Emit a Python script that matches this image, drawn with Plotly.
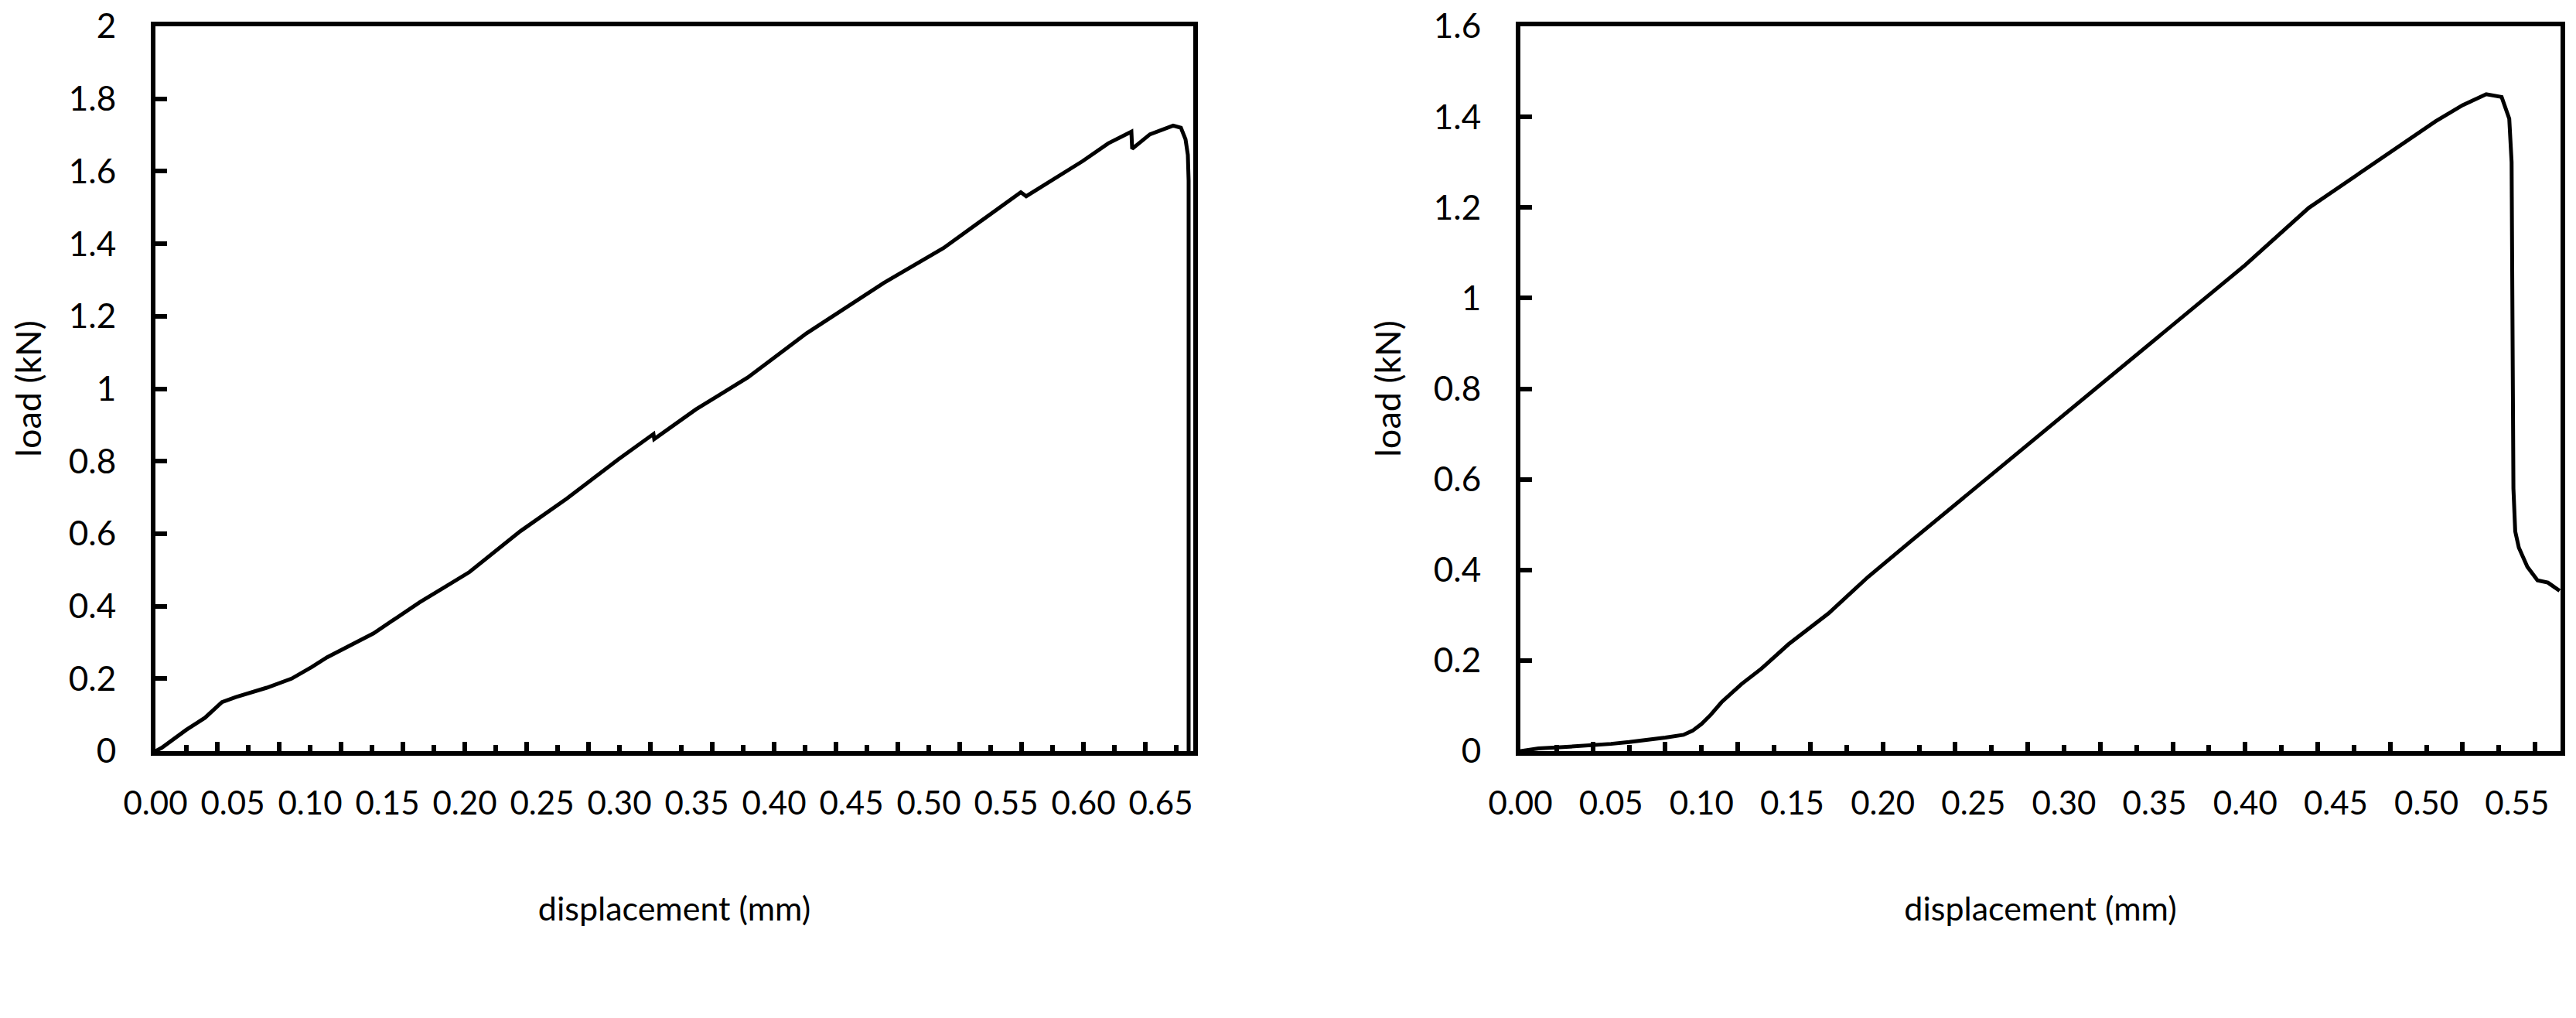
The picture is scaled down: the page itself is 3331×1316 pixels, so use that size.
import plotly.graph_objects as go

# ---- data ----
# (a) load-displacement curve
disp_a = [0.000, 0.004, 0.020, 0.032, 0.043, 0.052, 0.072, 0.088, 0.101, 0.111,
          0.141, 0.171, 0.203, 0.236, 0.266, 0.2995, 0.322, 0.3225, 0.3495, 0.383,
          0.421, 0.471, 0.5095, 0.5595, 0.563, 0.5995, 0.616, 0.631, 0.6315, 0.643,
          0.658, 0.663, 0.666, 0.6675, 0.668, 0.668]
load_a = [0.000, 0.009, 0.059, 0.092, 0.135, 0.149, 0.175, 0.200, 0.232, 0.259,
          0.325, 0.411, 0.494, 0.607, 0.697, 0.806, 0.875, 0.861, 0.943, 1.031,
          1.153, 1.292, 1.388, 1.542, 1.531, 1.628, 1.677, 1.709, 1.662, 1.702,
          1.726, 1.720, 1.688, 1.645, 1.574, 0.000]

# (b) load-displacement curve
disp_b = [0.000, 0.005, 0.010, 0.020, 0.030, 0.040, 0.050, 0.060, 0.070, 0.080,
          0.090, 0.095, 0.100, 0.105, 0.111, 0.122, 0.133, 0.148, 0.170, 0.192,
          0.216, 0.250, 0.300, 0.350, 0.400, 0.435, 0.461, 0.485, 0.505, 0.520,
          0.533, 0.5415, 0.5457, 0.547, 0.5475, 0.548, 0.549, 0.551, 0.5557, 0.5613,
          0.567, 0.5735]
load_b = [0.000, 0.004, 0.006, 0.008, 0.010, 0.013, 0.016, 0.020, 0.024, 0.030,
          0.036, 0.045, 0.060, 0.080, 0.108, 0.148, 0.182, 0.236, 0.304, 0.385,
          0.465, 0.577, 0.742, 0.907, 1.073, 1.199, 1.270, 1.336, 1.390, 1.426,
          1.450, 1.444, 1.396, 1.300, 0.940, 0.580, 0.485, 0.449, 0.407, 0.377,
          0.372, 0.354]

# tick labels
x_ticks_a = [0.00, 0.05, 0.10, 0.15, 0.20, 0.25, 0.30, 0.35, 0.40, 0.45, 0.50, 0.55, 0.60, 0.65]
x_ticks_b = [0.00, 0.05, 0.10, 0.15, 0.20, 0.25, 0.30, 0.35, 0.40, 0.45, 0.50, 0.55]
x_ticktext_a = ["0.00", "0.05", "0.10", "0.15", "0.20", "0.25", "0.30", "0.35", "0.40",
                "0.45", "0.50", "0.55", "0.60", "0.65"]
x_ticktext_b = ["0.00", "0.05", "0.10", "0.15", "0.20", "0.25", "0.30", "0.35", "0.40",
                "0.45", "0.50", "0.55"]
y_ticks_a = [0, 0.2, 0.4, 0.6, 0.8, 1.0, 1.2, 1.4, 1.6, 1.8, 2.0]
y_ticks_b = [0, 0.2, 0.4, 0.6, 0.8, 1.0, 1.2, 1.4, 1.6]
y_ticktext_a = ["0", "0.2", "0.4", "0.6", "0.8", "1", "1.2", "1.4", "1.6", "1.8", "2"]
y_ticktext_b = ["0", "0.2", "0.4", "0.6", "0.8", "1", "1.2", "1.4", "1.6"]
# tick marks on the displacement axes (they are not at the label positions)
x_marks_long = [0.00, 0.04, 0.08, 0.12, 0.16, 0.20, 0.24, 0.28, 0.32, 0.36, 0.40,
                0.44, 0.48, 0.52, 0.56, 0.60, 0.64]
x_marks_short = [0.02, 0.06, 0.10, 0.14, 0.18, 0.22, 0.26, 0.30, 0.34, 0.38, 0.42,
                 0.46, 0.50, 0.54, 0.58, 0.62, 0.66]

x_range_a = [0, 0.671]
x_range_b = [0, 0.574]
y_range_a = [0, 2]
y_range_b = [0, 1.6]

panel_labels = ["a", "b"]
x_title = "displacement (mm)"
y_title = "load (kN)"

# ---- styling / layout (page pixel positions; the page body has an 8px margin) ----
FONT = "Lato, 'Open Sans', sans-serif"
SERIF = "'Liberation Serif', 'DejaVu Serif', serif"
LW = 6
OFF = 8
W, H = 3331, 1316


def px(x):
    return (x - OFF) / W


def py(y):
    return 1 - (y - OFF) / H


AX_A = (201, 1543)      # page x of left plot edges
AX_B = (1966, 3311)     # page x of right plot edges
AX_Y = (34, 971)        # page y of top / bottom edges
dom_a = [px(AX_A[0]), px(AX_A[1])]
dom_b = [px(AX_B[0]), px(AX_B[1])]
dom_y = [py(AX_Y[1]), py(AX_Y[0])]


def to_data(page_x, page_y, ax_x, xr, yr):
    """convert a page position to data coordinates of a panel"""
    dx = xr[0] + (page_x - ax_x[0]) / (ax_x[1] - ax_x[0]) * (xr[1] - xr[0])
    dy = yr[0] + (AX_Y[1] - page_y) / (AX_Y[1] - AX_Y[0]) * (yr[1] - yr[0])
    return dx, dy


fig = go.Figure()
fig.add_trace(go.Scatter(x=disp_a, y=load_a, mode="lines", xaxis="x", yaxis="y",
                         line=dict(color="black", width=5), showlegend=False))
fig.add_trace(go.Scatter(x=disp_b, y=load_b, mode="lines", xaxis="x2", yaxis="y2",
                         line=dict(color="black", width=5), showlegend=False))
# empty traces so the overlaid tick-mark axes exist
fig.add_trace(go.Scatter(x=[], y=[], xaxis="x3", yaxis="y", showlegend=False))
fig.add_trace(go.Scatter(x=[], y=[], xaxis="x4", yaxis="y2", showlegend=False))

# panel captions (a), (b) below each plot
for lab, (cx, cy), ax_x, xr, yr, xa, ya in [
        (panel_labels[0], (822, 1260), AX_A, x_range_a, y_range_a, "x", "y"),
        (panel_labels[1], (2583, 1260), AX_B, x_range_b, y_range_b, "x2", "y2")]:
    dx, dy = to_data(cx, cy, ax_x, xr, yr)
    fig.add_trace(go.Scatter(x=[dx], y=[dy], mode="text", text=[f"(<b>{lab}</b>)"],
                             textposition="middle center", cliponaxis=False,
                             textfont=dict(family=SERIF, size=66, color="black"),
                             xaxis=xa, yaxis=ya, showlegend=False, hoverinfo="skip"))


def xaxis(domain, rng, anchor, vals, text, standoff_title):
    return dict(domain=domain, range=rng, anchor=anchor, automargin=False,
                tickmode="array", tickvals=vals, ticktext=text, ticks="",
                showgrid=False, zeroline=False,
                showline=True, linewidth=LW, linecolor="black", mirror=True,
                ticklabelstandoff=26,
                tickfont=dict(family=FONT, size=42, color="black"),
                title=dict(text=x_title, standoff=standoff_title,
                           font=dict(family=FONT, size=43, color="black")))


def xmarks(rng, over, anchor):
    return dict(overlaying=over, anchor=anchor, range=rng, automargin=False,
                tickmode="array", tickvals=x_marks_long,
                ticktext=["" for _ in x_marks_long],
                ticks="inside", ticklen=12, tickwidth=LW, tickcolor="black",
                showgrid=False, zeroline=False, showline=False,
                minor=dict(tickmode="array", tickvals=x_marks_short, ticks="inside",
                           ticklen=8, tickwidth=LW, tickcolor="black", showgrid=False))


def yaxis(rng, vals, text, anchor, standoff_title):
    return dict(domain=dom_y, range=rng, anchor=anchor, automargin=False,
                tickmode="array", tickvals=vals, ticktext=text,
                ticks="inside", ticklen=15, tickwidth=LW, tickcolor="black",
                showgrid=False, zeroline=False,
                showline=True, linewidth=LW, linecolor="black", mirror=True,
                ticklabelstandoff=36, ticklabeloverflow="allow",
                tickfont=dict(family=FONT, size=44, color="black"),
                title=dict(text=y_title, standoff=standoff_title,
                           font=dict(family=FONT, size=45, color="black")))


fig.update_layout(
    width=W, height=H, autosize=False,
    margin=dict(l=0, r=0, t=0, b=0),
    plot_bgcolor="white",
    font=dict(family=FONT, color="black"),
    xaxis=xaxis(dom_a, x_range_a, "y", x_ticks_a, x_ticktext_a, 100),
    xaxis2=xaxis(dom_b, x_range_b, "y2", x_ticks_b, x_ticktext_b, 100),
    xaxis3=xmarks(x_range_a, "x", "y"),
    xaxis4=xmarks(x_range_b, "x2", "y2"),
    yaxis=yaxis(y_range_a, y_ticks_a, y_ticktext_a, "x", 23),
    yaxis2=yaxis(y_range_b, y_ticks_b, y_ticktext_b, "x2", 30),
)

fig.write_html("out.html", config={"displayModeBar": False})
